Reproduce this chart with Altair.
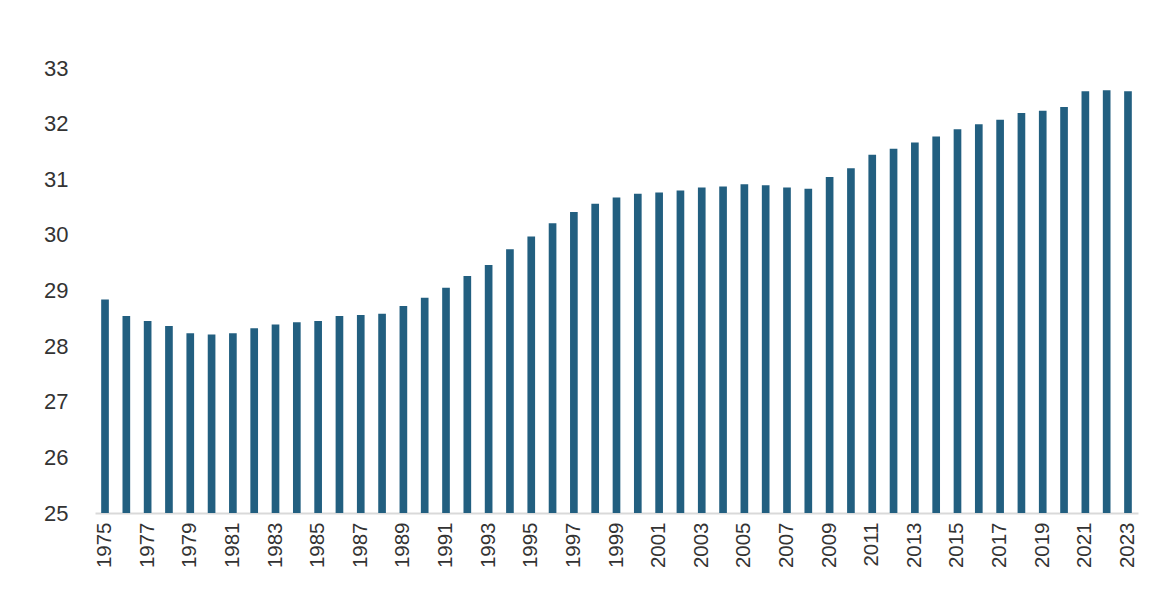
import altair as alt
import pandas as pd

years = list(range(1975, 2024))
values = [
    28.84, 28.54, 28.45, 28.36, 28.23, 28.21, 28.23, 28.32, 28.39, 28.43,
    28.45, 28.54, 28.56, 28.58, 28.72, 28.87, 29.05, 29.26, 29.46, 29.74,
    29.97, 30.21, 30.41, 30.56, 30.67, 30.74, 30.76, 30.80, 30.85, 30.87,
    30.91, 30.89, 30.85, 30.83, 31.04, 31.20, 31.44, 31.55, 31.66, 31.77,
    31.90, 31.99, 32.07, 32.19, 32.23, 32.30, 32.58, 32.60, 32.58,
]
y_ticks = [25, 26, 27, 28, 29, 30, 31, 32, 33]
x_ticks = [y for y in years if y % 2 == 1]

BAR_COLOR = "#225f80"
TEXT_COLOR = "#333333"

df = pd.DataFrame({"year": years, "value": values})

chart = (
    alt.Chart(df)
    .mark_bar(color=BAR_COLOR)
    .encode(
        x=alt.X(
            "year:O",
            title=None,
            scale=alt.Scale(paddingInner=0.64, paddingOuter=0.29),
            axis=alt.Axis(
                values=x_ticks,
                labelAngle=270,
                labelFontSize=20.5,
                labelColor=TEXT_COLOR,
                labelFont="Liberation Sans",
                labelPadding=9,
                ticks=False,
                domainColor="#d9d9d9",
                domainWidth=2,
            ),
        ),
        y=alt.Y(
            "value:Q",
            title=None,
            scale=alt.Scale(domain=[25, 33], zero=False, nice=False, clamp=True),
            axis=alt.Axis(
                values=y_ticks,
                grid=False,
                domain=False,
                ticks=False,
                labelFontSize=22,
                labelColor=TEXT_COLOR,
                labelFont="Liberation Sans",
                labelPadding=27,
            ),
        ),
    )
    .properties(
        width=1043,
        height=445,
        autosize=alt.AutoSizeParams(type="none"),
        padding={"left": 87, "top": 60, "right": 20, "bottom": 80},
    )
    .configure_view(stroke=None)
)

chart.save("out.html", embed_options={"renderer": "svg", "actions": False})
